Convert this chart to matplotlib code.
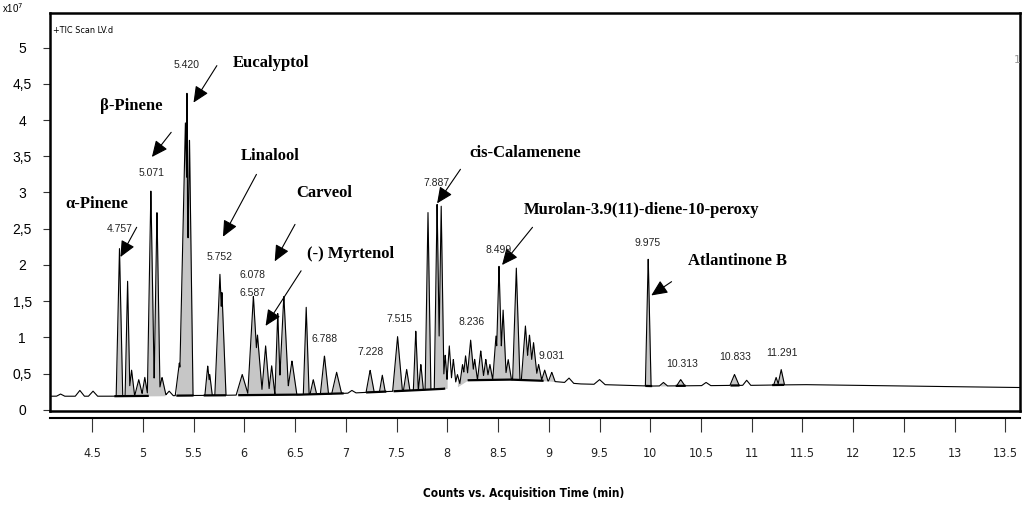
import numpy as np
import matplotlib
matplotlib.use("Agg")
import matplotlib.pyplot as plt

# peak table (time in min, apex in x10^7 counts, half base width in min)
peak_rt = [4.19, 4.38, 4.51, 4.77, 4.85, 4.89, 4.96, 5.02, 5.08, 5.14, 5.19, 5.26, 5.36,
           5.42, 5.436, 5.46, 5.64, 5.66, 5.76, 5.78, 5.98, 6.09, 6.13, 6.21, 6.27, 6.33,
           6.39, 6.47, 6.61, 6.68, 6.79, 6.91, 7.06, 7.24, 7.36, 7.51, 7.60, 7.69, 7.74,
           7.81, 7.90, 7.94, 7.98, 8.02, 8.06, 8.10, 8.15, 8.18, 8.23, 8.27, 8.33, 8.38,
           8.42, 8.48, 8.51, 8.55, 8.60, 8.68, 8.77, 8.81, 8.85, 8.90, 8.96, 9.03, 9.20,
           9.50, 9.98, 10.13, 10.30, 10.55, 10.83, 10.95, 11.24, 11.29]
peak_apex = [0.22, 0.27, 0.26, 2.26, 1.81, 0.55, 0.42, 0.45, 3.04, 2.77, 0.45, 0.26, 0.65,
             3.96, 4.54, 3.78, 0.61, 0.49, 1.88, 1.64, 0.49, 1.57, 1.04, 0.89, 0.61, 1.34,
             1.58, 0.68, 1.43, 0.42, 0.75, 0.52, 0.27, 0.55, 0.48, 1.02, 0.56, 1.10, 0.63,
             2.74, 2.86, 2.84, 0.76, 0.89, 0.70, 0.49, 0.63, 0.75, 0.97, 0.70, 0.82, 0.70,
             0.63, 1.02, 1.99, 1.39, 0.70, 1.98, 1.16, 1.04, 0.93, 0.63, 0.55, 0.52, 0.44,
             0.42, 2.11, 0.38, 0.42, 0.38, 0.49, 0.41, 0.45, 0.56]
peak_halfwidth = [0.04, 0.045, 0.045, 0.032, 0.024, 0.03, 0.04, 0.03, 0.035, 0.03, 0.04, 0.04, 0.04,
                  0.06, 0.012, 0.035, 0.028, 0.024, 0.05, 0.04, 0.06, 0.056, 0.048, 0.04, 0.032, 0.028,
                  0.048, 0.048, 0.028, 0.032, 0.04, 0.048, 0.04, 0.04, 0.028, 0.048, 0.032, 0.024, 0.024,
                  0.028, 0.028, 0.028, 0.024, 0.028, 0.028, 0.028, 0.028, 0.028, 0.036, 0.028, 0.032, 0.028,
                  0.028, 0.032, 0.032, 0.032, 0.032, 0.036, 0.04, 0.04, 0.04, 0.032, 0.032, 0.032, 0.045,
                  0.055, 0.028, 0.04, 0.04, 0.045, 0.045, 0.04, 0.024, 0.032]

# drifting baseline of the trace
base_t = [4.09, 4.7, 5.5, 6.5, 7.0, 7.5, 7.95, 8.1, 8.2, 8.6, 9.0, 9.3, 10.0, 11.0, 11.5, 12.5, 13.64]
base_v = [0.19, 0.19, 0.20, 0.21, 0.23, 0.26, 0.29, 0.32, 0.41, 0.42, 0.40, 0.36, 0.33, 0.34, 0.35, 0.33, 0.31]

# integrated regions (shaded) and drawn integration baselines
fill_windows = [(4.72, 5.22), (5.33, 5.50), (5.60, 5.84), (5.93, 7.0), (7.18, 7.42), (7.46, 8.0),
                (8.1, 9.06), (9.94, 10.03), (10.1, 10.36), (10.78, 10.88), (11.2, 11.33)]
int_windows = [(4.72, 5.06), (5.33, 5.50), (5.60, 5.82), (5.94, 6.98), (7.20, 7.40), (7.47, 7.98),
               (8.20, 8.95), (9.95, 10.02), (10.25, 10.35), (10.79, 10.88), (11.20, 11.32)]

# compound labels: name, text position, arrow tail, arrow head
compounds = [
    ("α-Pinene", (4.55, 2.84), (4.94, 2.52), (4.78, 2.11)),
    ("β-Pinene", (4.89, 4.19), (5.28, 3.83), (5.09, 3.49)),
    ("Eucalyptol", (6.26, 4.78), (5.73, 4.75), (5.50, 4.24)),
    ("Linalool", (6.26, 3.51), (6.12, 3.25), (5.79, 2.39)),
    ("Carveol", (6.79, 2.99), (6.50, 2.56), (6.30, 2.05)),
    ("(-) Myrtenol", (7.05, 2.15), (6.56, 1.92), (6.21, 1.16)),
    ("cis-Calamenene", (8.77, 3.54), (8.13, 3.32), (7.90, 2.85)),
    ("Murolan-3.9(11)-diene-10-peroxy", (9.91, 2.76), (8.84, 2.52), (8.54, 2.00)),
    ("Atlantinone B", (10.86, 2.05), (10.21, 1.77), (10.01, 1.58)),
]

# retention time labels and where they sit
rt_labels = ["4.757", "5.071", "5.420", "5.752", "6.078", "6.587", "6.788", "7.228", "7.515",
             "7.887", "8.236", "8.499", "9.031", "9.975", "10.313", "10.833", "11.291"]
rt_label_pos = [(4.776, 2.50), (5.09, 3.27), (5.436, 4.76), (5.76, 2.11), (6.086, 1.86),
                (6.086, 1.62), (6.796, 0.98), (7.24, 0.80), (7.525, 1.25), (7.89, 3.13),
                (8.244, 1.21), (8.51, 2.20), (9.032, 0.74), (9.978, 2.31), (10.313, 0.63),
                (10.835, 0.73), (11.298, 0.78)]

yticks = [0, 0.5, 1, 1.5, 2, 2.5, 3, 3.5, 4, 4.5, 5]
ytick_labels = ["0", "0,5", "1", "1,5", "2", "2,5", "3", "3,5", "4", "4,5", "5"]
xticks = [4.5, 5, 5.5, 6, 6.5, 7, 7.5, 8, 8.5, 9, 9.5, 10, 10.5, 11, 11.5, 12, 12.5, 13, 13.5]

# build the trace: triangular peaks on a drifting baseline
t = np.linspace(4.09, 13.64, 8000)
base = np.interp(t, base_t, base_v)
sig = np.zeros_like(t)
for rt, ap, hw in zip(peak_rt, peak_apex, peak_halfwidth):
    amp = max(ap - np.interp(rt, base_t, base_v), 0)
    sig = np.maximum(sig, amp * np.clip(1 - np.abs(t - rt) / hw, 0, None))
trace = base + sig

narrow = dict(family=["DejaVu Sans"], stretch="condensed")

fig = plt.figure(figsize=(10.24, 5.07), dpi=100)
ax = fig.add_axes([50 / 1024, 1 - 411 / 507, 970 / 1024, 398 / 507])
ax.set_xlim(4.086, 13.643)
ax.set_ylim(-0.014, 5.476)

for a, b in fill_windows:
    m = (t >= a) & (t <= b)
    ax.fill_between(t[m], base[m], trace[m], color="#c6c6c6", lw=0)
ax.plot(t, trace, color="black", lw=0.8)
for a, b in int_windows:
    m = (t >= a) & (t <= b)
    ax.plot(t[m], base[m], color="black", lw=1.6, solid_capstyle="butt")

for spine in ax.spines.values():
    spine.set_linewidth(1.8)
ax.set_xticks([])
ax.set_yticks(yticks)
ax.set_yticklabels(ytick_labels, family=["Liberation Sans", "DejaVu Sans"], fontsize=10)
ax.tick_params(axis="y", length=5, width=0.8, pad=15, color="#333333")
for lbl in ax.get_yticklabels():
    lbl.set_horizontalalignment("center")

serif = ["Liberation Serif", "DejaVu Serif"]
for name, txt, tail, head in compounds:
    ax.text(txt[0], txt[1], name, ha="center", va="center", family=serif,
            fontweight="bold", fontsize=12)
    ax.annotate("", xy=head, xytext=tail,
                arrowprops=dict(arrowstyle="-|>,head_length=0.7,head_width=0.32",
                                mutation_scale=14, lw=0.8, color="black",
                                shrinkA=0, shrinkB=0))

for lab, (x, y) in zip(rt_labels, rt_label_pos):
    ax.text(x, y, lab, ha="center", va="center", fontsize=7.5,
            family=["Liberation Sans", "DejaVu Sans"], color="#222222")

ax.text(0.003, 0.955, "+TIC Scan LV.d", transform=ax.transAxes, fontsize=6.5,
        va="center", **narrow)

# separate time axis under the frame
ax2 = fig.add_axes([50 / 1024, 1 - 418 / 507, 970 / 1024, 0.0001])
ax2.set_xlim(ax.get_xlim())
ax2.set_yticks([])
for side in ["top", "left", "right"]:
    ax2.spines[side].set_visible(False)
ax2.spines["bottom"].set_linewidth(1.5)
ax2.set_xticks(xticks)
ax2.set_xticklabels([f"{v:g}" for v in xticks], fontsize=9, color="#222222", **narrow)
ax2.tick_params(axis="x", length=10, width=0.8, pad=11, color="#333333")

fig.text(524 / 1024, 1 - 494 / 507, "Counts vs. Acquisition Time (min)", ha="center", va="center",
         fontsize=8.5, fontweight="bold", **narrow)
fig.text(2 / 1024, 1 - 8 / 507, "x10$^7$", fontsize=7, va="center",
         family=["Liberation Sans", "DejaVu Sans"])
fig.text(1014 / 1024, 1 - 60 / 507, "1", fontsize=8, color="#999999", va="center")

fig.savefig("out.png", dpi=100)
